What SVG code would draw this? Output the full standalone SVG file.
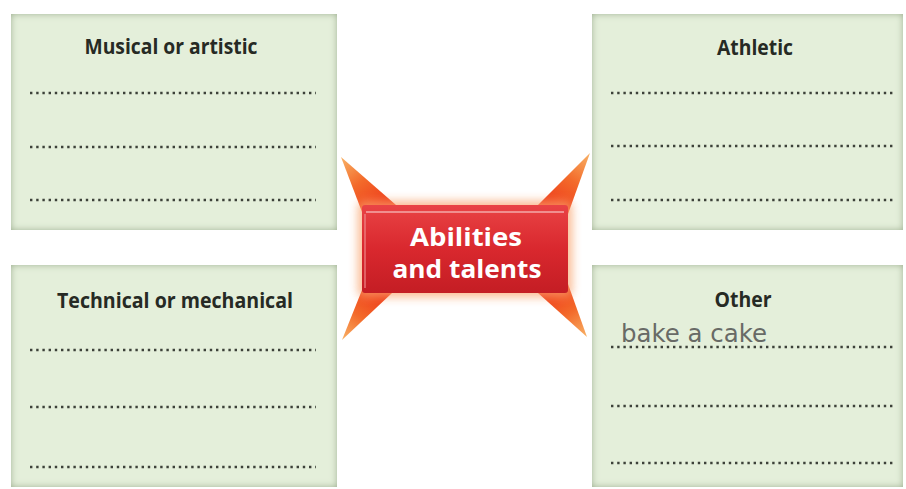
<svg xmlns="http://www.w3.org/2000/svg" width="906" height="489" viewBox="0 0 906 489">
  <style>
    .box { fill: #e4efda; filter: url(#inner); }
    .title { font-family: "Open Sans", "Liberation Sans", sans-serif; font-weight: 700; font-size: 21px; fill: #262a24; text-anchor: middle; }
    .dots { stroke: #3c4139; stroke-width: 2.4; stroke-dasharray: 2.4 3.8; fill: none; }
    .hub { font-family: "Open Sans", "Liberation Sans", sans-serif; font-weight: 700; font-size: 25px; fill: #ffffff; text-anchor: middle; }
    .hand { font-family: "DejaVu Sans", "Liberation Sans", sans-serif; font-weight: 400; font-size: 25px; fill: #686a66; }
  </style>
  <defs>
    <filter id="inner" x="-5%" y="-5%" width="110%" height="110%">
      <feFlood flood-color="#97ab89" result="c"/>
      <feComposite in="c" in2="SourceAlpha" operator="out" result="outside"/>
      <feGaussianBlur in="outside" stdDeviation="3.5" result="blur"/>
      <feComposite in="blur" in2="SourceAlpha" operator="in" result="innerShadow"/>
      <feMerge>
        <feMergeNode in="SourceGraphic"/>
        <feMergeNode in="innerShadow"/>
      </feMerge>
    </filter>
    <filter id="glow" x="-30%" y="-30%" width="160%" height="160%">
      <feGaussianBlur stdDeviation="5"/>
    </filter>
    <linearGradient id="redGrad" x1="0" y1="0" x2="0" y2="1">
      <stop offset="0" stop-color="#e94345"/>
      <stop offset="0.5" stop-color="#d9282e"/>
      <stop offset="1" stop-color="#c41d24"/>
    </linearGradient>
    <linearGradient id="spTL" x1="341" y1="157" x2="378" y2="208" gradientUnits="userSpaceOnUse">
      <stop offset="0" stop-color="#f8b266"/>
      <stop offset="0.5" stop-color="#f36a2a"/>
      <stop offset="1" stop-color="#ee3d1c"/>
    </linearGradient>
    <linearGradient id="spTR" x1="590" y1="153" x2="554" y2="208" gradientUnits="userSpaceOnUse">
      <stop offset="0" stop-color="#f8b266"/>
      <stop offset="0.5" stop-color="#f36a2a"/>
      <stop offset="1" stop-color="#ee3d1c"/>
    </linearGradient>
    <linearGradient id="spBL" x1="342" y1="340" x2="376" y2="292" gradientUnits="userSpaceOnUse">
      <stop offset="0" stop-color="#f8b266"/>
      <stop offset="0.5" stop-color="#f36a2a"/>
      <stop offset="1" stop-color="#ee3d1c"/>
    </linearGradient>
    <linearGradient id="spBR" x1="587" y1="337" x2="554" y2="288" gradientUnits="userSpaceOnUse">
      <stop offset="0" stop-color="#f8b266"/>
      <stop offset="0.5" stop-color="#f36a2a"/>
      <stop offset="1" stop-color="#ee3d1c"/>
    </linearGradient>
  </defs>

  <rect x="0" y="0" width="906" height="489" fill="#ffffff"/>

  <g id="connectors">
    <polygon points="341,157 362,212 396,205" fill="url(#spTL)"/>
    <polygon points="590,153 538,205 568,214" fill="url(#spTR)"/>
    <polygon points="342,340 362,290 392,293" fill="url(#spBL)"/>
    <polygon points="587,337 538,293 568,284" fill="url(#spBR)"/>
  </g>

  <g id="node-center">
    <rect x="358" y="201" width="214" height="96" rx="6" fill="#f9a36c" opacity="0.75" filter="url(#glow)"/>
    <rect x="362" y="205" width="206" height="88" rx="3" fill="url(#redGrad)"/>
    <line x1="366" y1="212" x2="564" y2="212" stroke="#f3a3a3" stroke-width="2" opacity="0.8"/>
    <line x1="365" y1="214" x2="365" y2="288" stroke="#ef8a8a" stroke-width="2" opacity="0.6"/>
    <text class="hub" x="466" y="246" textLength="112" lengthAdjust="spacingAndGlyphs">Abilities</text>
    <text class="hub" x="467" y="278" textLength="149" lengthAdjust="spacingAndGlyphs">and talents</text>
  </g>

  <g id="node-musical">
    <rect class="box" x="11" y="14" width="326" height="216"/>
    <text class="title" x="171" y="54" textLength="173" lengthAdjust="spacingAndGlyphs">Musical or artistic</text>
    <line class="dots" x1="30" y1="93" x2="316" y2="93"/>
    <line class="dots" x1="30" y1="147" x2="316" y2="147"/>
    <line class="dots" x1="30" y1="200" x2="316" y2="200"/>
  </g>

  <g id="node-athletic">
    <rect class="box" x="592" y="14" width="311" height="216"/>
    <text class="title" x="755" y="55" textLength="76" lengthAdjust="spacingAndGlyphs">Athletic</text>
    <line class="dots" x1="611" y1="93" x2="896" y2="93"/>
    <line class="dots" x1="611" y1="146" x2="896" y2="146"/>
    <line class="dots" x1="611" y1="200" x2="896" y2="200"/>
  </g>

  <g id="node-technical">
    <rect class="box" x="11" y="265" width="326" height="222"/>
    <text class="title" x="175" y="308" textLength="236" lengthAdjust="spacingAndGlyphs">Technical or mechanical</text>
    <line class="dots" x1="30" y1="350" x2="316" y2="350"/>
    <line class="dots" x1="30" y1="407" x2="316" y2="407"/>
    <line class="dots" x1="30" y1="467" x2="316" y2="467"/>
  </g>

  <g id="node-other">
    <rect class="box" x="592" y="265" width="311" height="222"/>
    <text class="title" x="743" y="307" textLength="57" lengthAdjust="spacingAndGlyphs">Other</text>
    <line class="dots" x1="611" y1="347" x2="896" y2="347"/>
    <line class="dots" x1="611" y1="406" x2="896" y2="406"/>
    <line class="dots" x1="611" y1="463" x2="896" y2="463"/>
    <text class="hand" x="621" y="342" textLength="146" lengthAdjust="spacingAndGlyphs">bake a cake</text>
  </g>
</svg>
